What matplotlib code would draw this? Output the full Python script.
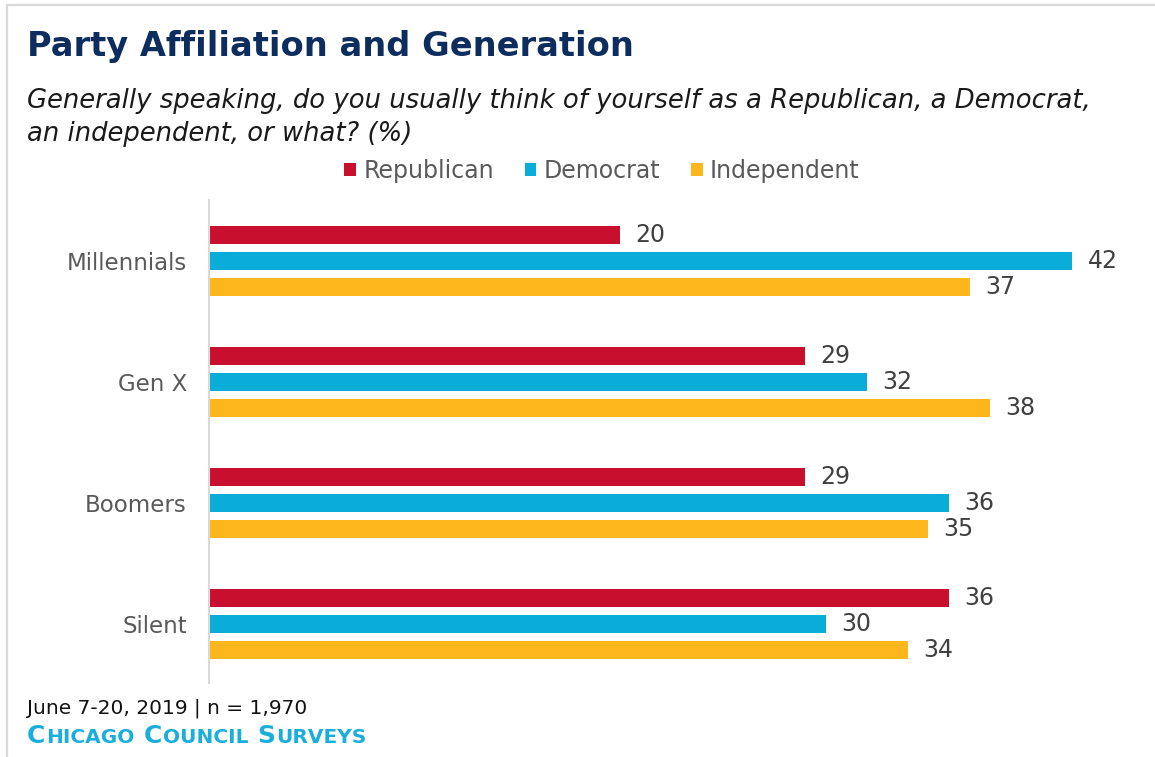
import matplotlib
matplotlib.use("Agg")
import numpy as np
import matplotlib.pyplot as plt
from matplotlib.patches import Patch
from matplotlib.lines import Line2D

# Survey results (%)
generations = ["Millennials", "Gen X", "Boomers", "Silent"]
republican = [20, 29, 29, 36]
democrat = [42, 32, 36, 30]
independent = [37, 38, 35, 34]
series_names = ["Republican", "Democrat", "Independent"]
series_colors = ["#C8102E", "#0AADD8", "#FDB71C"]

title = "Party Affiliation and Generation"
subtitle_lines = ["Generally speaking, do you usually think of yourself as a Republican, a Democrat,",
                  "an independent, or what? (%)"]
footnote = "June 7-20, 2019 | n = 1,970"
source = "Chicago Council Surveys"

W, H = 1155, 757
fig = plt.figure(figsize=(W / 100, H / 100), dpi=100)
fig.patch.set_facecolor("white")


def fx(px):
    return px / W


def fy(py):
    return 1 - py / H


# light frame along the top and left edges
fig.add_artist(Line2D([fx(7), 1.0], [fy(5), fy(5)], color="#D9D9D9", lw=1.6))
fig.add_artist(Line2D([fx(7), fx(7)], [fy(5), 0.0], color="#D9D9D9", lw=1.6))

# bar panel
ax = fig.add_axes([fx(209), fy(683), 925 / W, (683 - 200) / H])
ypos = np.arange(len(generations))
bar_h = 0.149
offset = 0.215
for i, (vals, col) in enumerate(zip([republican, democrat, independent], series_colors)):
    bars = ax.barh(ypos + (i - 1) * offset, vals, height=bar_h, color=col,
                   edgecolor="none")
    ax.bar_label(bars, labels=[str(v) for v in vals], padding=11, fontsize=17,
                 color="#404040", family="DejaVu Sans")

ax.set_xlim(0, 45)
ax.set_ylim(3.49, -0.505)
ax.set_yticks(ypos)
ax.set_yticklabels(generations, fontsize=16.5, color="#595959", family="DejaVu Sans")
ax.tick_params(axis="y", length=0, pad=16)
ax.xaxis.set_visible(False)
for side in ["top", "right", "bottom"]:
    ax.spines[side].set_visible(False)
ax.spines["left"].set_color("#D9D9D9")
ax.spines["left"].set_linewidth(1.5)

# legend
handles = [Patch(facecolor=c, edgecolor="none") for c in series_colors]
leg = fig.legend(handles, series_names, loc="center", bbox_to_anchor=(fx(602), fy(171)),
                 ncol=3, frameon=False, handlelength=0.5, handleheight=0.5,
                 handletextpad=0.3, columnspacing=1.3,
                 prop={"family": "DejaVu Sans", "size": 17})
for t in leg.get_texts():
    t.set_color("#595959")

# titles
fig.text(fx(27), fy(56), title, fontsize=24.2, fontweight="bold", color="#0C2D5E",
         family="DejaVu Sans", va="baseline")
for k, line in enumerate(subtitle_lines):
    fig.text(fx(27), fy(108 + 33 * k), line, fontsize=18.6, style="italic",
             color="#1A1A1A", family="DejaVu Sans", va="baseline")

# footer
fig.text(fx(27), fy(713), footnote, fontsize=14.5, color="#111111",
         family="DejaVu Sans", va="baseline")

# small-caps source line
renderer = fig.canvas.get_renderer()
x_px = 27
big, small = 18, 14.5
for w_i, word in enumerate(source.upper().split(" ")):
    if w_i > 0:
        x_px += 0.36 * big * 100 / 72
    for part, size in [(word[0], big), (word[1:], small)]:
        t = fig.text(fx(x_px), fy(743), part, fontsize=size, color="#1AAEDC",
                     family="DejaVu Sans", fontweight="bold", va="baseline")
        bb = t.get_window_extent(renderer)
        x_px += bb.width + 0.5

fig.savefig("out.png", dpi=100, facecolor="white")
